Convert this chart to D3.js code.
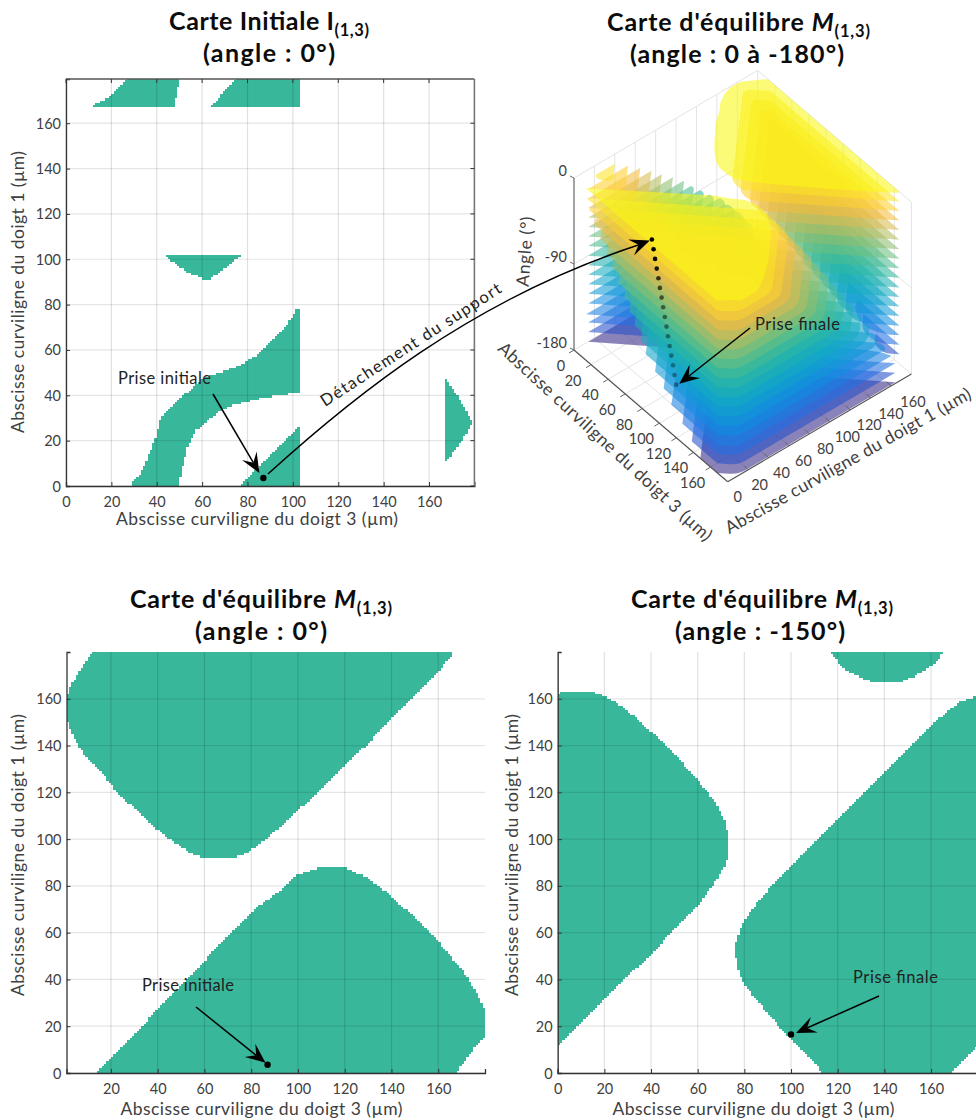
<!DOCTYPE html>
<html><head><meta charset="utf-8">
<style>html,body{margin:0;padding:0;background:#fff;overflow:hidden}svg{display:block}text{font-family:Lato,"Open Sans",sans-serif}</style>
<script src="https://cdn.jsdelivr.net/npm/d3@7"></script></head><body>
<script>
// ---------- tick labels ----------
const ticksA=[0,20,40,60,80,100,120,140,160];
const xTicksC=[20,40,60,80,100,120,140,160];
const yTicks=[0,20,40,60,80,100,120,140,160];
const angleTicks=[0,-90,-180];
const xLabel="Abscisse curviligne du doigt 3 (µm)", yLabel="Abscisse curviligne du doigt 1 (µm)";
const initA1=[[11.5,166.7],[14,169],[19,171.5],[27.5,180],[50,180],[50,176.5],[48.8,176.5],[48.8,171.5],[48,171.5],[48,166.7]];
const initA2=[[63,166.7],[75.5,180],[103,180],[103,166.7]];
const initA3=[[43,102.5],[78.5,102.5],[77,101.5],[70.8,96.7],[65,92.3],[64,91],[60,91],[59,92.2],[54.7,93.7],[48.8,97.4]];
const initA4=[[28.2,0],[33.4,6.3],[39.2,20.3],[41.9,30.5],[59,46.7],[63.5,48.9],[73.8,51.9],[83.1,57],[95.8,68.8],[102,78.3],[103,78.3],[103,41.1],[87,39],[73.8,35.7],[67.9,33.2],[57.6,24.7],[53.2,15.9],[51,7],[49.8,0]];
const initA5=[[76.7,0],[102.7,26.1],[103,26.1],[103,0]];
const initA6=[[166.6,47.2],[168.5,46],[173.7,37.9],[177.3,31.3],[179,27.6],[177.3,24.7],[173.7,18.8],[168,11.5],[166.6,11]];
const eq0Upper=[[13.2,181],[10.4,177.8],[7.5,173.3],[4.7,168.6],[1.8,163.6],[0.9,160],[0.9,152],[1.8,149.3],[4,143.6],[8.3,136.5],[15.4,129.4],[22.5,120],[31,112.3],[39.5,104.4],[46.7,98.7],[54.5,93.7],[60.9,91.6],[70.8,91.6],[77.9,93.7],[86.5,100],[97.9,110],[109,120.8],[129.9,140.8],[149,160.7],[165.9,178],[165.9,181]];
const eq0Lower=[[13.9,0],[80.8,69.6],[90.7,76.7],[99.3,84.6],[109.2,88.1],[119.2,88.1],[129.2,83.9],[140.5,75.3],[159,57.5],[171.9,41.8],[178.9,29.7],[181,25],[181,16],[174.7,9.7],[167.6,0]];
const eq150Top=[[116,181],[122.4,172.9],[129.6,168.9],[136,166.7],[146,166.7],[152.4,169.3],[161,174.6],[166.7,181]];
const eq150Left=[[-1,162],[3.1,163.3],[13.9,163.3],[19.6,161.4],[28.1,156.4],[39.6,146.4],[48.1,138.6],[59.6,125.7],[68.1,115],[71.7,107.9],[73.3,100],[73.3,94.3],[71.7,88.6],[68.1,82.6],[61,72.6],[39.6,50.4],[19.6,31.1],[-1,11]];
const eq150Right=[[113.9,0],[93.9,21.1],[85.3,31.1],[79.6,38.3],[77.4,44.7],[76.4,49.7],[76.4,55.4],[78.9,63.3],[85.3,72.6],[89.6,77.6],[102.4,91],[119.6,108.6],[141,129],[155.3,144.3],[162.4,150.7],[172.4,158.6],[181,161.7],[181,12],[168.9,0]];
// ---------- stacked 3D map: one value per layer, 0° to -180° by 10° ----------
const angles=[0,-10,-20,-30,-40,-50,-60,-70,-80,-90,-100,-110,-120,-130,-140,-150,-160,-170,-180];
const layerColors=["#f9f814","#fbe426","#fdd12e","#f5bc3f","#d8bc52","#b5bd60","#8fbe70","#6cbf7f","#4abb90","#2eb8a0","#1fb2b0","#14adc0","#10a3cc","#0f9ad5","#128de0","#1a80e0","#2270e4","#2650c8","#352a87"];
const rightSumLow=[14,15,18,24,31,38,45,52,59,65,71,78,84,95,105,114,127,138,148];
const rightSumHigh=[215,223,232,240,249,257,266,274,283,291,300,308,317,325,334,342,351,359,368];
const rightPeak=[88,94,100,105,111,116,121,126,130,135,140,144,149,153,157,161,165,165,165];
const rightTip=[0,0,0,0,0,0,32,36,40,44,48,53,57,63,68,76,82,88,94];
const leftTop=[0,40,53,65,76,86,97,107,115,124,133,143,150,157,162,164,166,168,170];
const leftSum=[0,40,53,65,76,86,97,108,118,128,138,149,160,170,180,190,198,206,214];
const upperSum=[157,166,175,185,194,203,212,221,231,240,249,258,268,277,286,295,304,318,400];
const upperFloor=[92,96,100,105,110,115,120,125,130,134,139,144,149,153,158,166,168,172,175];
// trajectory of the grasp across the stack
const pathD3=[87,87.9,88.7,89.6,90.5,91.3,92.2,93,93.9,94.8,95.6,96.5,97.4,98.3,99.1,100];
const pathD1=[3.5,4.4,5.2,6.1,7,7.8,8.7,9.5,10.4,11.3,12.1,13,13.9,14.8,15.6,16.5];
const pathOpacity=[1,1,.95,.88,.75,.65,.58,.52,.48,.45,.42,.4,.38,.36,.36,.4];
const graspStart=[87,3.5], graspEnd=[100,16.5];

const FILL="#38b79b", TXT="#404040", DARK="#333";
const svg=d3.select("body").append("svg").attr("width",976).attr("height",1120);

function fit(sel,w){sel.attr("textLength",w).attr("lengthAdjust","spacing");return sel;}
function title(x,y,width,parts){
  const t=svg.append("text").attr("x",x).attr("y",y).attr("text-anchor","middle").attr("font-weight",700).attr("font-size",25).attr("fill","#0c0c0c");
  parts.forEach(p=>{const s=t.append("tspan").text(p.t);
    if(p.sub)s.attr("font-size",16.5).attr("dy",6);
    if(p.it)s.attr("font-style","italic");});
  return fit(t,width);
}
function rasterPath(polys,x,y){
  const p=d3.path();
  for(let j=0;j<180;j++){
    let start=null;
    for(let i=0;i<=180;i++){
      const inside=i<180&&polys.some(q=>d3.polygonContains(q,[i+.5,j+.5]));
      if(inside&&start===null)start=i;
      if(!inside&&start!==null){
        const x0=Math.round(x(start)),x1=Math.round(x(i)),y0=Math.round(y(j+1)),y1=Math.round(y(j));
        p.rect(x0,y0,x1-x0,y1-y0);start=null;
      }
    }
  }
  return p.toString();
}
let clipId=0;
function panel(o){
  const x=d3.scaleLinear(o.xd,o.xr), y=d3.scaleLinear(o.yd,o.yr);
  const g=svg.append("g");
  const id="c"+(clipId++);
  g.append("clipPath").attr("id",id).append("rect").attr("x",o.xr[0]).attr("y",o.yr[1]).attr("width",o.xr[1]-o.xr[0]).attr("height",o.yr[0]-o.yr[1]);
  g.append("path").attr("clip-path",`url(#${id})`).attr("d",rasterPath(o.polys,x,y)).attr("fill",FILL).attr("shape-rendering","crispEdges");
  // grid
  g.selectAll(".gx").data(o.xt).join("line").attr("x1",d=>x(d)).attr("x2",d=>x(d)).attr("y1",o.yr[0]).attr("y2",o.yr[1]).attr("stroke","#000").attr("stroke-opacity",.12).attr("stroke-width",1.2);
  g.selectAll(".gy").data(o.yt).join("line").attr("y1",d=>y(d)).attr("y2",d=>y(d)).attr("x1",o.xr[0]).attr("x2",o.xr[1]).attr("stroke","#000").attr("stroke-opacity",.1).attr("stroke-width",1.2);
  // axes
  const ax=d3.axisBottom(x).tickValues(o.xt).tickSize(-4).tickPadding(8).tickFormat(d3.format("d"));
  const ay=d3.axisLeft(y).tickValues(o.yt).tickSize(-4).tickPadding(5).tickFormat(d3.format("d"));
  const gx=g.append("g").attr("transform",`translate(0,${o.yr[0]})`).call(ax);
  const gy=g.append("g").attr("transform",`translate(${o.xr[0]},0)`).call(ay);
  [gx,gy].forEach(a=>{a.select(".domain").attr("stroke",DARK).attr("stroke-width",1.3);
    a.selectAll(".tick line").attr("stroke",DARK);
    a.selectAll("text").attr("fill",TXT).attr("font-size",14.5).attr("font-family","Lato");});
  gx.selectAll("text").attr("dy",0).attr("y",21);
  gy.selectAll("text").attr("dy",5);
  if(o.box){
    g.append("line").attr("x1",o.xr[0]).attr("x2",o.xr[1]).attr("y1",o.yr[1]).attr("y2",o.yr[1]).attr("stroke","#555").attr("stroke-width",1.3);
    g.append("line").attr("x1",o.xr[1]).attr("x2",o.xr[1]).attr("y1",o.yr[1]).attr("y2",o.yr[0]).attr("stroke","#777").attr("stroke-width",1.6);
    o.xt.forEach(d=>g.append("line").attr("x1",x(d)).attr("x2",x(d)).attr("y1",o.yr[1]).attr("y2",o.yr[1]+4).attr("stroke",DARK));
    o.yt.forEach(d=>g.append("line").attr("x1",o.xr[1]).attr("x2",o.xr[1]-4).attr("y1",y(d)).attr("y2",y(d)).attr("stroke",DARK));
  }
  fit(g.append("text").attr("x",o.xlx).attr("y",o.yr[0]+o.xly).attr("text-anchor","middle").attr("font-size",17.5).attr("fill",TXT).text(xLabel),282);
  fit(g.append("text").attr("transform",`translate(${o.ylx},${o.yly}) rotate(-90)`).attr("text-anchor","middle").attr("font-size",17.5).attr("fill",TXT).text(yLabel),282);
  return {x,y,g};
}
function arrowHead(x0,y0,x1,y1,len=20,wid=8.5,notch=12){
  const a=Math.atan2(y1-y0,x1-x0),c=Math.cos(a),s=Math.sin(a);
  const P=(b,l)=>[x1-b*c-l*s,y1-b*s+l*c];
  return "M"+[P(0,0),P(len,wid),P(notch,0),P(len,-wid)].map(p=>p.join(",")).join("L")+"Z";
}
function arrow(x0,y0,x1,y1){
  const a=Math.atan2(y1-y0,x1-x0);
  svg.append("line").attr("x1",x0).attr("y1",y0).attr("x2",x1-12*Math.cos(a)).attr("y2",y1-12*Math.sin(a)).attr("stroke","#000").attr("stroke-width",1.5);
  svg.append("path").attr("d",arrowHead(x0,y0,x1,y1)).attr("fill","#000");
}
function note(x,y,w,t){fit(svg.append("text").attr("x",x).attr("y",y).attr("font-size",16.5).attr("fill","#222").text(t),w);}
function dot(x,y,r=3.2){svg.append("circle").attr("cx",x).attr("cy",y).attr("r",r).attr("fill","#000");}

// ---------- titles ----------
title(269,30,200,[{t:"Carte Initiale I"},{t:"(1,3)",sub:1}]);
title(269,62,132,[{t:"(angle : 0°)"}]);
title(738.5,31,263,[{t:"Carte d'équilibre "},{t:"M",it:1},{t:"(1,3)",sub:1}]);
title(737,63,214,[{t:"(angle : 0 à -180°)"}]);
title(261,608,262,[{t:"Carte d'équilibre "},{t:"M",it:1},{t:"(1,3)",sub:1}]);
title(261,640,132,[{t:"(angle : 0°)"}]);
title(762,608,262,[{t:"Carte d'équilibre "},{t:"M",it:1},{t:"(1,3)",sub:1}]);
title(760,640,170,[{t:"(angle : -150°)"}]);

// ---------- 2D panels ----------
const A=panel({xd:[0,180],xr:[66,474.4],yd:[0,179.5],yr:[486,79],xt:ticksA,yt:yTicks,box:true,polys:[initA1,initA2,initA3,initA4,initA5,initA6],xlx:257,xly:39,ylx:24,yly:292});
const C=panel({xd:[1,180],xr:[66.5,485],yd:[0,180],yr:[1073,652],xt:xTicksC,yt:yTicks,polys:[eq0Upper,eq0Lower],xlx:261.5,xly:42,ylx:24,yly:855});
const D=panel({xd:[0,180],xr:[557.7,977.7],yd:[0,180],yr:[1073,652],xt:ticksA,yt:yTicks,polys:[eq150Top,eq150Left,eq150Right],xlx:753.5,xly:42,ylx:518,yly:855});

// ---------- 3D stack ----------
const px3=d3.scaleLinear([0,180],[574,727.7]), py3=d3.scaleLinear([0,180],[0,131.7]);
const px1=d3.scaleLinear([0,180],[0,183.7]), py1=d3.scaleLinear([0,180],[0,-107.6]);
const pz=d3.scaleLinear([-180,0],[350,178]);
const proj=(a,b,z)=>[px3(a)+px1(b),pz(z)+py3(a)+py1(b)];
const g3=svg.append("g");
const line3=(a0,b0,z0,a1,b1,z1,col="#e4e4e4",w=1)=>{const p=proj(a0,b0,z0),q=proj(a1,b1,z1);
  g3.append("line").attr("x1",p[0]).attr("y1",p[1]).attr("x2",q[0]).attr("y2",q[1]).attr("stroke",col).attr("stroke-width",w);};
ticksA.forEach(v=>{
  if(v>0){line3(0,v,0,0,v,-180);line3(v,180,0,v,180,-180);line3(v,0,-180,v,180,-180);line3(0,v,-180,180,v,-180);}
});
line3(0,0,0,0,180,0);line3(0,180,0,180,180,0);line3(0,180,-180,0,180,0);line3(180,180,0,180,180,-180);
line3(0,0,-90,0,180,-90);line3(0,180,-90,180,180,-90);line3(0,0,-180,0,180,-180);line3(0,180,-180,180,180,-180);

function clipPoly(poly,a,b,c){ // keep a*x+b*y<=c
  const out=[];
  for(let i=0;i<poly.length;i++){
    const P=poly[i],Q=poly[(i+1)%poly.length];
    const dp=a*P[0]+b*P[1]-c,dq=a*Q[0]+b*Q[1]-c;
    if(dp<=0)out.push(P);
    if((dp<0&&dq>0)||(dp>0&&dq<0)){const t=dp/(dp-dq);out.push([P[0]+t*(Q[0]-P[0]),P[1]+t*(Q[1]-P[1])]);}
  }
  return out;
}
const square=[[0,0],[179,0],[179,180],[0,180]];
const cut=(rules,base=square)=>rules.reduce((p,r)=>p.length?clipPoly(p,r[0],r[1],r[2]):p,base);
const toMap=q=>cut([[-1,0,0],[1,0,179],[0,-1,0],[0,1,180]],q);
// soften the wide corners of a layer outline, leaving its sharp teeth alone
function soften(P,r=7){
  const out=[];
  P.forEach((B,i)=>{
    const A=P[(i+P.length-1)%P.length],C=P[(i+1)%P.length];
    const ax=A[0]-B[0],ay=A[1]-B[1],cx=C[0]-B[0],cy=C[1]-B[1];
    const la=Math.hypot(ax,ay),lc=Math.hypot(cx,cy);
    if(la<1e-6||lc<1e-6){out.push(B);return;}
    const ang=Math.acos((ax*cx+ay*cy)/(la*lc))*180/Math.PI;
    if(ang<75||B[1]<.5||B[1]>179.5){out.push(B);return;}
    const d=Math.min(r,la/2.2,lc/2.2);
    const p0=[B[0]+ax/la*d,B[1]+ay/la*d],p1=[B[0]+cx/lc*d,B[1]+cy/lc*d];
    [0,.25,.5,.75,1].forEach(t=>{const u=1-t;
      out.push([u*u*p0[0]+2*u*t*B[0]+t*t*p1[0],u*u*p0[1]+2*u*t*B[1]+t*t*p1[1]]);});
  });
  return out;
}
const lineGen=d3.line();
const order=d3.range(angles.length).reverse();
order.forEach(k=>{
  let blobs;
  if(k===0) blobs=[eq0Upper,eq0Lower].map(toMap);
  else if(k===15) blobs=[eq150Top,eq150Left,eq150Right].map(toMap);
  else blobs=[
    cut([[-1,1,-14],[1,1,rightSumHigh[k]],[-1,-1,-rightSumLow[k]],[1,-1,168],[0,1,rightPeak[k]],[-1,0,-rightTip[k]]]),
    cut([[1,-1,-14],[-1,-1,-upperSum[k]],[0,-1,-upperFloor[k]],[-1,1,165]]),
    cut([[1,-1,-14],[1,1,leftSum[k]],[0,1,leftTop[k]],[0,-1,k===1?-20:-14]])
  ].map(b=>b.length>2?soften(b):b);
  blobs.forEach(b=>{ if(b.length<3)return;
    g3.append("path").attr("d",lineGen(b.map(p=>proj(p[0],p[1],angles[k])))+"Z").attr("fill",layerColors[k]).attr("fill-opacity",.58);
  });
});
pathD3.forEach((v,i)=>{const p=proj(v,pathD1[i],angles[i]);
  g3.append("circle").attr("cx",p[0]).attr("cy",p[1]).attr("r",2.3).attr("fill","#000").attr("fill-opacity",pathOpacity[i]);});
// 3D axes
line3(0,0,0,0,0,-180,"#666",1.2);line3(0,0,-180,180,0,-180,"#555",1.2);line3(180,0,-180,180,180,-180,"#555",1.2);
const lab3=(x,y,t,fs=14.5)=>g3.append("text").attr("x",x).attr("y",y).attr("text-anchor","middle").attr("font-size",fs).attr("fill",TXT).text(t);
angleTicks.forEach(a=>{const p=proj(0,0,a);
  g3.append("line").attr("x1",p[0]).attr("y1",p[1]).attr("x2",p[0]-4).attr("y2",p[1]-2).attr("stroke","#666");
  g3.append("text").attr("x",p[0]-7).attr("y",p[1]-2).attr("text-anchor","end").attr("font-size",14.5).attr("fill",TXT).text(a);});
ticksA.forEach(v=>{const p=proj(v,0,-180),q=proj(180,v,-180);
  g3.append("line").attr("x1",p[0]).attr("y1",p[1]).attr("x2",p[0]-5).attr("y2",p[1]+3).attr("stroke","#666");
  g3.append("line").attr("x1",q[0]).attr("y1",q[1]).attr("x2",q[0]-4).attr("y2",q[1]-4).attr("stroke","#666");
  lab3(p[0]-(v?18:13),p[1]+21,v);
  lab3(q[0]+10+v*.075,q[1]+20.5,v);
});
const rotated=(cx,cy,ang,w,t,fs=17.5)=>fit(g3.append("text").attr("transform",`translate(${cx},${cy}) rotate(${ang})`).attr("text-anchor","middle").attr("font-size",fs).attr("fill",TXT).text(t),w);
rotated(601,446,42.7,284,xLabel);
rotated(851,466,-29.3,279,yLabel);
rotated(531,252,-86,70,"Angle (°)");

// ---------- annotations ----------
const sA=[A.x(graspStart[0]),A.y(graspStart[1])];
const endTop=proj(pathD3[0],pathD1[0],angles[0]);
const endBot=proj(pathD3[15],pathD1[15],angles[15]);
const curve=d3.path();
curve.moveTo(sA[0]+4.5,sA[1]-4);
curve.bezierCurveTo(sA[0]+86,sA[1]-78,sA[0]+206,sA[1]-178,endTop[0]-12,endTop[1]+5);
svg.append("path").attr("d",curve.toString()).attr("fill","none").attr("stroke","#000").attr("stroke-width",1.5);
svg.append("path").attr("d",arrowHead(endTop[0]-40,endTop[1]+15,endTop[0]-2,endTop[1]+1)).attr("fill","#000");
dot(sA[0],sA[1]);
arrow(213,394,sA[0]-4,sA[1]-5);
note(118,384,93,"Prise initiale");
svg.append("text").attr("transform","translate(325,407) rotate(-33)").attr("font-size",16.5).attr("fill","#222").attr("textLength",212).attr("lengthAdjust","spacing").text("Détachement du support");

const sC=[C.x(graspStart[0]),C.y(graspStart[1])];
dot(sC[0],sC[1]);
arrow(196,1007,sC[0]-2,sC[1]-2);
note(142,991,92,"Prise initiale");
const sD=[D.x(graspEnd[0]),D.y(graspEnd[1])];
dot(sD[0],sD[1]);
arrow(879,996,sD[0]+5,sD[1]-1.5);
note(853,983,85,"Prise finale");
arrow(750,328,endBot[0]+3,endBot[1]-1);
note(755,330,85,"Prise finale");
</script></body></html>
